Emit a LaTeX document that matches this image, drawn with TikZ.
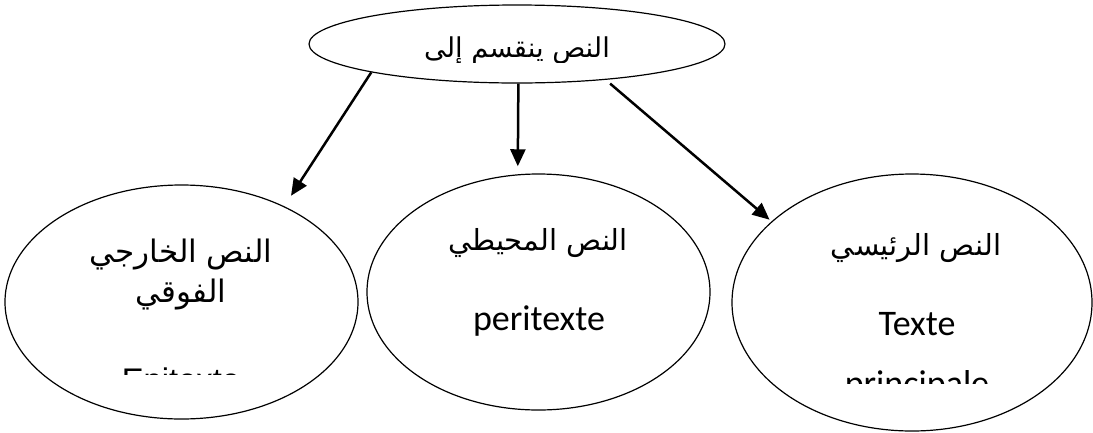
\documentclass[tikz,border=0pt]{standalone}
\usepackage{fontspec}
\setmainfont{Liberation Sans}
\newfontfamily\arabicfont[Script=Arabic]{DejaVu Sans}
\newfontfamily\calibrifont{Carlito}
\TeXXeTstate=1
\usetikzlibrary{arrows.meta,shapes.geometric}
\tikzset{
  ell/.style={ellipse, draw=black, line width=1.2pt, inner sep=0pt, fill=none},
  conn/.style={line width=2.5pt, -{Triangle[length=17pt,width=15pt]}},
  artxt/.style={inner sep=0pt, anchor=base, font=\arabicfont\fontsize{29}{35}\selectfont},
  latxt/.style={inner sep=0pt, anchor=base, font=\calibrifont\fontsize{36}{43}\selectfont},
  arialtxt/.style={inner sep=0pt, anchor=base, font=\fontsize{32.7}{39}\selectfont}
}
\begin{document}
\begin{tikzpicture}[x=1pt,y=-1pt]
\useasboundingbox[fill=white] (0,0) rectangle (1093,432);
% ellipses
\node[ell, minimum width=416pt, minimum height=78pt] (top) at (517,44) {};
\node[ell, minimum width=353pt, minimum height=234pt] (left) at (181.5,302) {};
\node[ell, minimum width=343pt, minimum height=236pt] (mid) at (538.5,292) {};
\node[ell, minimum width=360pt, minimum height=257pt] (right) at (912,302.5) {};
% top text (clipped)
\begin{scope}
\clip (0,0) rectangle (1093,62);
\node[artxt, font=\arabicfont\fontsize{27.3}{33}\selectfont] (ttop) at (517,57) {\beginR النص ينقسم إلى\endR};
\end{scope}
% left texts
\node[artxt, font=\arabicfont\fontsize{31}{37}\selectfont] (l1) at (181,262) {\beginR النص الخارجي\endR};
\node[artxt, font=\arabicfont\fontsize{31}{37}\selectfont] (l2) at (181,302) {\beginR الفوقي\endR};
\begin{scope}
\clip (0,0) rectangle (1093,374.5);
\node[arialtxt] (l3) at (181,391) {Epitexte};
\end{scope}
% middle texts
\node[artxt] (m1) at (538,250) {\beginR النص المحيطي\endR};
\node[latxt] (m2) at (539,330) {peritexte};
% right texts
\node[artxt] (r1) at (916,255) {\beginR النص الرئيسي\endR};
\node[latxt] (r2) at (917,335) {Texte};
\begin{scope}
\clip (0,0) rectangle (1093,383);
\node[latxt] (r3) at (917,395) {principale};
\end{scope}
% connectors
\draw[conn, shorten >=12.5pt] (top.191.6) -- (left.43.4);
\draw[conn, shorten >=8pt] (top.272) -- (mid.100.4);
\draw[conn, shorten <=5.8pt, shorten >=2.6pt] (top.338.55) -- (right.150);
\end{tikzpicture}
\end{document}
